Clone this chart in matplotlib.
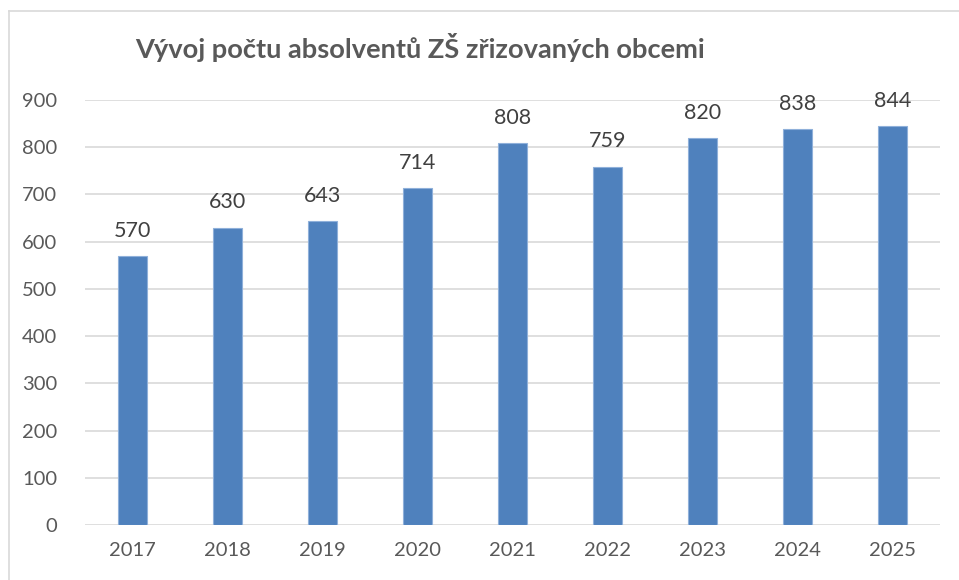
import matplotlib
matplotlib.use("Agg")
import matplotlib.pyplot as plt
from matplotlib.lines import Line2D

years = ["2017", "2018", "2019", "2020", "2021", "2022", "2023", "2024", "2025"]
values = [570, 630, 643, 714, 808, 759, 820, 838, 844]
yticks = [0, 100, 200, 300, 400, 500, 600, 700, 800, 900]
title = "Vývoj počtu absolventů ZŠ zřizovaných obcemi"

plt.rcParams['font.family'] = ['Lato', 'DejaVu Sans']
text_color = "#595959"
bar_color = "#4F81BD"
grid_color = "#D9D9D9"

fig = plt.figure(figsize=(9.59, 5.8), dpi=100)
ax = fig.add_axes([85/959, 1-525/580, (940-85)/959, (525-100)/580])

x = list(range(len(years)))
bars = ax.bar(x, values, width=0.31, color=bar_color, edgecolor="#8FB0DA", linewidth=0.8, zorder=3)
for xi, v in zip(x, values):
    ax.text(xi, v + 32, str(v), ha="center", va="bottom", fontsize=15.5, color="#404040")

ax.set_xlim(-0.5, len(years) - 0.5)
ax.set_ylim(0, 900)
ax.set_yticks(yticks)
ax.set_yticklabels([str(t) for t in yticks])
ax.set_xticks(x)
ax.set_xticklabels(years)
ax.tick_params(axis="both", length=0, labelsize=14.5, colors=text_color)
ax.tick_params(axis="y", pad=20)
ax.tick_params(axis="x", pad=12)
ax.yaxis.grid(True, color=grid_color, linewidth=1.2, zorder=0)
for s in ax.spines.values():
    s.set_visible(False)

fig.text(135/959, 1-48/580, title, fontsize=19.6, fontweight="bold", color=text_color,
         ha="left", va="center")

# outer border (left and top only visible)
fig.add_artist(Line2D([9/959, 9/959], [0, 1-11/580], color="#D9D9D9", linewidth=1.2, transform=fig.transFigure))
fig.add_artist(Line2D([9/959, 1], [1-11/580, 1-11/580], color="#D9D9D9", linewidth=1.2, transform=fig.transFigure))

fig.savefig("out.png", dpi=100)
